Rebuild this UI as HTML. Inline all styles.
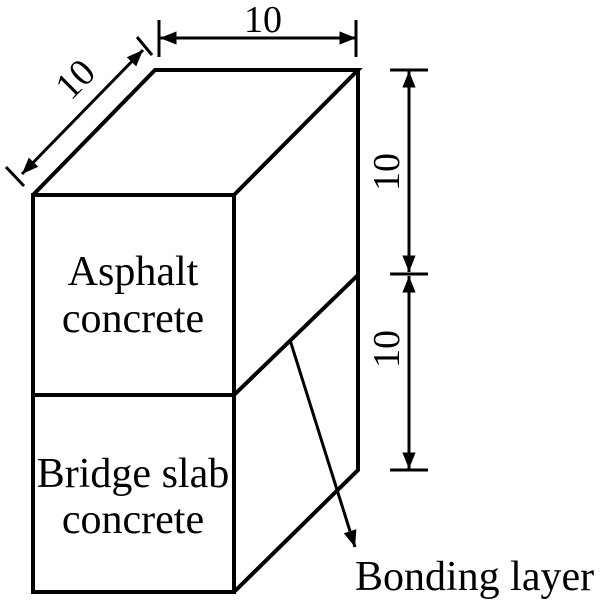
<!DOCTYPE html>
<html><head><style>body{margin:0;background:#fff}svg{display:block}</style></head><body>
<svg width="600" height="603" viewBox="0 0 600 603" xmlns="http://www.w3.org/2000/svg">
<defs>
<marker id="a" viewBox="0 0 10 10" refX="10" refY="5" markerWidth="7" markerHeight="5.5" orient="auto-start-reverse" markerUnits="strokeWidth"><path d="M0,1 L10,5 L0,9 z" fill="#000"/></marker>
</defs>
<g stroke="#000" stroke-width="4" fill="none" stroke-linejoin="miter">
<rect x="33" y="195" width="201" height="397"/>
<line x1="33" y1="395" x2="234" y2="395"/>
<path d="M33,195 L155,70 L358,70 L234,195"/>
<path d="M358,70 L358,470 L234,592"/>
<line x1="234" y1="395" x2="358" y2="275"/>
</g>
<g stroke="#000" stroke-width="3" fill="none">
<line x1="160" y1="38" x2="356" y2="38" marker-start="url(#a)" marker-end="url(#a)"/>
<line x1="159" y1="20" x2="159" y2="57"/>
<line x1="356" y1="20" x2="356" y2="57"/>
<line x1="22" y1="174" x2="143" y2="50" marker-start="url(#a)" marker-end="url(#a)"/>
<line x1="6" y1="167" x2="24" y2="186"/>
<line x1="137" y1="37" x2="152" y2="55"/>
<line x1="409" y1="71" x2="409" y2="272" marker-start="url(#a)" marker-end="url(#a)"/>
<line x1="409" y1="276" x2="409" y2="469" marker-start="url(#a)" marker-end="url(#a)"/>
<line x1="390" y1="70" x2="428" y2="70"/>
<line x1="390" y1="274" x2="428" y2="274"/>
<line x1="390" y1="470" x2="428" y2="470"/>
<line x1="290" y1="340" x2="355" y2="547" marker-end="url(#a)"/>
</g>
<g font-family="Liberation Serif, serif" font-size="42" fill="#000">
<text x="263" y="32" text-anchor="middle" font-size="38">10</text>
<text transform="translate(84,88) rotate(-45)" text-anchor="middle" font-size="38">10</text>
<text transform="translate(399,172) rotate(-90)" text-anchor="middle" font-size="38">10</text>
<text transform="translate(399,349) rotate(-90)" text-anchor="middle" font-size="38">10</text>
<text x="133" y="285" text-anchor="middle">Asphalt</text>
<text x="133" y="332" text-anchor="middle">concrete</text>
<text x="133" y="487" text-anchor="middle">Bridge slab</text>
<text x="133" y="533" text-anchor="middle">concrete</text>
<text x="355" y="590">Bonding layer</text>
</g>
</svg>
</body></html>
